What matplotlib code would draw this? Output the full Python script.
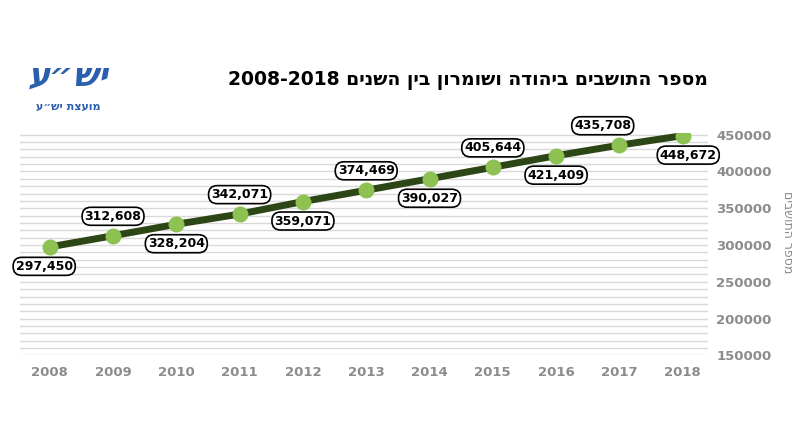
import matplotlib.pyplot as plt
import numpy as np

years = [2008, 2009, 2010, 2011, 2012, 2013, 2014, 2015, 2016, 2017, 2018]
population = [297450, 312608, 328204, 342071, 359071, 374469, 390027, 405644, 421409, 435708, 448672]
# label offsets in points (above / below the point)
label_dy = [-14, 14, -14, 14, -14, 14, -14, 14, -14, 14, -14]
label_dx = [-4, 0, 0, 0, 0, 0, 0, 0, 0, -12, 4]

fig = plt.figure(figsize=(8, 4.47), dpi=100)
ax = fig.add_axes([0.025, 0.205, 0.86, 0.497])

for v in range(150000, 450001, 10000):
    ax.axhline(v, color='#d9d9d9', lw=1.0, zorder=0)

ax.plot(years, population, color='#2d4615', lw=5, zorder=2)
ax.scatter(years, population, s=110, color='#8dc152', zorder=3)

for x, y, dx, dy in zip(years, population, label_dx, label_dy):
    ax.annotate(f"{y:,}", (x, y), xytext=(dx, dy), textcoords='offset points',
                ha='center', va='center', fontsize=9, fontweight='bold',
                bbox=dict(boxstyle='round,pad=0.2,rounding_size=0.7', fc='white', ec='black', lw=1.2),
                zorder=4)

ax.set_xlim(2007.53, 2018.4)
ax.set_ylim(150000, 452000)
ax.set_xticks(years)
ax.set_yticks(range(150000, 450001, 50000))
ax.yaxis.tick_right()
ax.tick_params(axis='x', length=0, labelsize=9.5, labelcolor='#8c8c8c', pad=8)
ax.tick_params(axis='y', length=0, labelsize=9.5, labelcolor='#8c8c8c', pad=6)
for t in ax.get_xticklabels() + ax.get_yticklabels():
    t.set_fontweight('bold')
for s in ax.spines.values():
    s.set_visible(False)

fig.text(0.984, 0.48, "םיבשותה רפסמ", rotation=-90, ha='center', va='center',
         fontsize=9, color='#8c8c8c')
fig.text(0.885, 0.82, "2008-2018 םינשה ןיב ןורמושו הדוהיב םיבשותה רפסמ",
         ha='right', va='center', fontsize=13.5, fontweight='bold')
fig.text(0.085, 0.83, "ע״שי", ha='center', va='center', fontsize=24,
         fontweight='bold', color='#2a5fae', style='italic')
fig.text(0.085, 0.76, "ע״שי תצעומ", ha='center', va='center', fontsize=8,
         fontweight='bold', color='#2a5fae')

fig.savefig('out.png', dpi=100)
